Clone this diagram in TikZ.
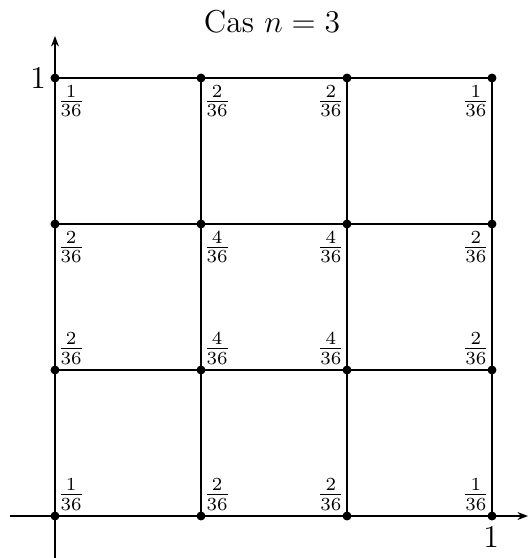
\documentclass[tikz,border=0pt]{standalone}
\usetikzlibrary{arrows.meta}
\begin{document}
\begin{tikzpicture}[x=0.379pt,y=-0.379pt,
  gridline/.style={line width=0.85pt},
  axis/.style={line width=0.6pt,-{Stealth[length=4pt,width=3pt]}},
  dot/.style={circle,fill=black,inner sep=0pt,minimum size=3.4pt},
  lab/.style={inner sep=0pt}]
\useasboundingbox (0,0) rectangle (528,558);
\node[lab,font=\large] (title) at (272,22) {Cas $n=3$};
% axes
\coordinate (xs) at (10,516);
\coordinate (xe) at (528,516);
\coordinate (ys) at (55,558);
\coordinate (ye) at (55,36);
\draw[axis] (xs) -- (xe);
\draw[axis] (ys) -- (ye);
% grid points
\foreach \i/\x in {0/55,1/201,2/347,3/492}{
  \foreach \j/\y in {0/516,1/370,2/224,3/78}{
    \coordinate (p\i\j) at (\x,\y);
  }
}
\foreach \j in {0,1,2,3}{\draw[gridline] (p0\j) -- (p3\j);}
\foreach \i in {0,1,2,3}{\draw[gridline] (p\i0) -- (p\i3);}
\foreach \i in {0,1,2,3}{\foreach \j in {0,1,2,3}{\node[dot] (d\i\j) at (p\i\j) {};}}
% axis labels
\node[lab,font=\large] (one-y) at (38,78) {$1$};
\node[lab,font=\large] (one-x) at (491,537) {$1$};
% top row
\node[lab,anchor=north west] (f03) at ([shift={(2,7)}]p03) {$\frac{1}{36}$};
\node[lab,anchor=north west] (f13) at ([shift={(2,7)}]p13) {$\frac{2}{36}$};
\node[lab,anchor=north east] (f23) at ([shift={(-2,7)}]p23) {$\frac{2}{36}$};
\node[lab,anchor=north east] (f33) at ([shift={(-2,7)}]p33) {$\frac{1}{36}$};
% second row
\node[lab,anchor=north west] (f02) at ([shift={(2,7)}]p02) {$\frac{2}{36}$};
\node[lab,anchor=north west] (f12) at ([shift={(2,7)}]p12) {$\frac{4}{36}$};
\node[lab,anchor=north east] (f22) at ([shift={(-2,7)}]p22) {$\frac{4}{36}$};
\node[lab,anchor=north east] (f32) at ([shift={(-2,7)}]p32) {$\frac{2}{36}$};
% third row
\node[lab,anchor=south west] (f01) at ([shift={(2,-5)}]p01) {$\frac{2}{36}$};
\node[lab,anchor=south west] (f11) at ([shift={(2,-5)}]p11) {$\frac{4}{36}$};
\node[lab,anchor=south east] (f21) at ([shift={(-2,-5)}]p21) {$\frac{4}{36}$};
\node[lab,anchor=south east] (f31) at ([shift={(-2,-5)}]p31) {$\frac{2}{36}$};
% bottom row
\node[lab,anchor=south west] (f00) at ([shift={(2,-5)}]p00) {$\frac{1}{36}$};
\node[lab,anchor=south west] (f10) at ([shift={(2,-5)}]p10) {$\frac{2}{36}$};
\node[lab,anchor=south east] (f20) at ([shift={(-2,-5)}]p20) {$\frac{2}{36}$};
\node[lab,anchor=south east] (f30) at ([shift={(-2,-5)}]p30) {$\frac{1}{36}$};
\end{tikzpicture}
\end{document}
